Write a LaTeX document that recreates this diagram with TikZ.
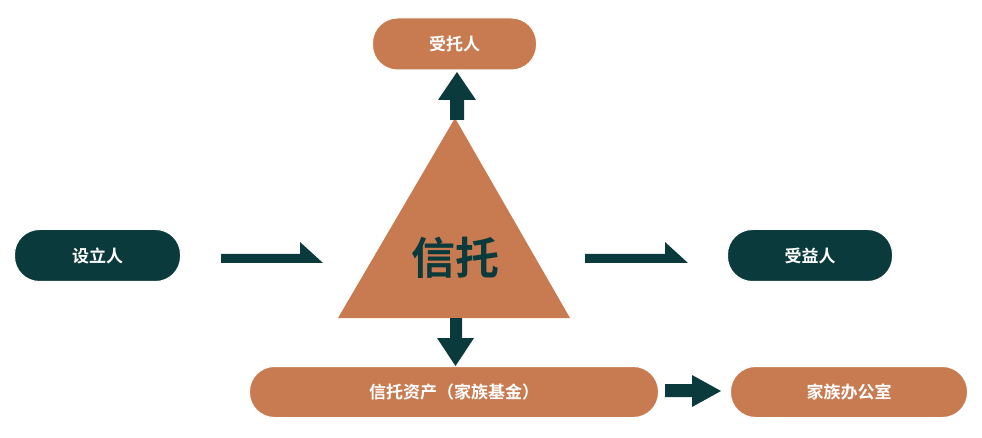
\documentclass[tikz,border=0pt]{standalone}
\usepackage{fontspec}
\newfontfamily\cjk{Noto Sans CJK SC Bold}
\definecolor{org}{HTML}{C87B50}
\definecolor{dk}{HTML}{0A3A3C}
\begin{document}
\begin{tikzpicture}[x=1pt,y=-1pt,
  pill/.style={rounded corners=25pt,draw=white,line width=1pt,text=white,font=\cjk\fontsize{17}{20}\selectfont},
  arr/.style={fill=dk,draw=none}]
\useasboundingbox (0,0) rectangle (982,438);
% triangle
\fill[org] (455,118) -- (570,318) -- (338,318) -- cycle;
\node (xt) at (455,258) {\cjk\fontsize{44}{50}\selectfont\textcolor{dk}{信托}};
% pills
\node[pill,fill=org,minimum width=164pt,minimum height=52pt] (st) at (454.5,44) {受托人};
\node[pill,fill=dk,minimum width=166pt,minimum height=52pt] (sl) at (97.5,255.5) {设立人};
\node[pill,fill=dk,minimum width=165pt,minimum height=52pt] (sy) at (810,255.5) {受益人};
\node[pill,fill=org,minimum width=409pt,minimum height=51pt] (zc) at (454,392) {信托资产（家族基金）};
\node[pill,fill=org,minimum width=237pt,minimum height=51pt] (bg) at (849,392) {家族办公室};
% up arrow
\fill[arr] (450,120) -- (450,100) -- (438,100) -- (457,72) -- (476,100) -- (464,100) -- (464,120) -- cycle;
% down arrow
\fill[arr] (450,318) -- (450,338) -- (437,338) -- (455.5,366) -- (474,338) -- (462,338) -- (462,318) -- cycle;
% half arrows
\fill[arr] (221,254) -- (300,254) -- (300,242) -- (323,263) -- (221,263) -- cycle;
\fill[arr] (585,254) -- (665,254) -- (665,242) -- (688,263) -- (585,263) -- cycle;
% right arrow
\fill[arr] (665,384) -- (692,384) -- (692,375) -- (721,391) -- (692,407) -- (692,397) -- (665,397) -- cycle;
\end{tikzpicture}
\end{document}
